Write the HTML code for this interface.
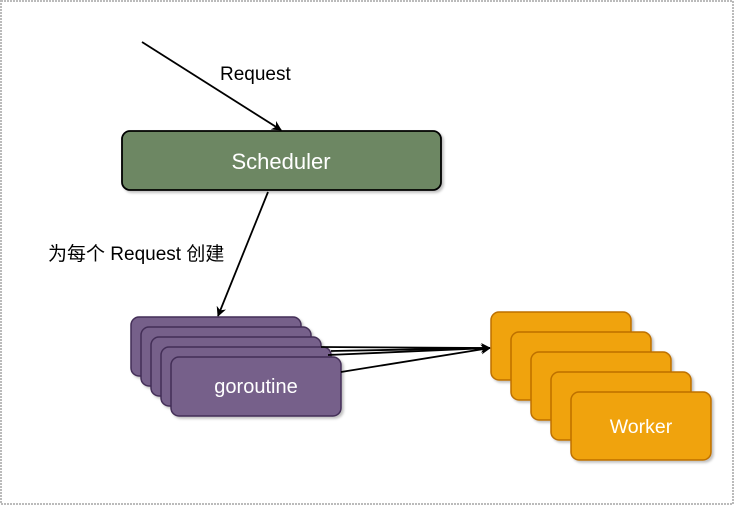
<!DOCTYPE html>
<html><head><meta charset="utf-8"><style>
html,body{margin:0;padding:0;background:#fff;}
svg{display:block;}
text{font-family:"Liberation Sans","Noto Sans CJK SC",sans-serif;}
</style></head><body>
<svg width="734" height="505" viewBox="0 0 734 505" xmlns="http://www.w3.org/2000/svg">
<defs>
<marker id="a" markerWidth="10" markerHeight="10" refX="9" refY="5" orient="auto" markerUnits="userSpaceOnUse"><path d="M0,0 L10,5 L0,10 L3,5 z" fill="#000"/></marker>
<filter id="s" x="-10%" y="-10%" width="130%" height="130%"><feDropShadow dx="2" dy="2" stdDeviation="1.2" flood-color="#000" flood-opacity="0.25"/></filter>
</defs>
<rect x="1" y="1" width="732" height="503" fill="none" stroke="#bbb" stroke-width="2" stroke-dasharray="2,1"/>
<line x1="142" y1="42" x2="281" y2="130" stroke="#000" stroke-width="1.8" marker-end="url(#a)"/>
<text x="220" y="80" font-size="19">Request</text>
<rect x="122" y="131" width="319" height="59" rx="8" fill="#6d8764" stroke="#000" stroke-width="1.8" filter="url(#s)"/>
<text x="281" y="169" font-size="22" fill="#fff" text-anchor="middle">Scheduler</text>
<line x1="268" y1="192" x2="218" y2="316" stroke="#000" stroke-width="1.8" marker-end="url(#a)"/>
<text x="48" y="260" font-size="19">为每个 Request 创建</text>
<g fill="#76608a" stroke="#432d57" stroke-width="1.5" filter="url(#s)">
<rect x="131" y="317" width="170" height="59" rx="8"/>
<rect x="141" y="327" width="170" height="59" rx="8"/>
<rect x="151" y="337" width="170" height="59" rx="8"/>
<rect x="161" y="347" width="170" height="59" rx="8"/>
<rect x="171" y="357" width="170" height="59" rx="8"/>
</g>
<text x="256" y="393" font-size="20" fill="#fff" text-anchor="middle">goroutine</text>
<g stroke="#000" stroke-width="1.8" fill="none">
<line x1="321" y1="347" x2="490" y2="348" marker-end="url(#a)"/>
<line x1="331" y1="351" x2="490" y2="348"/>
<line x1="328" y1="355" x2="490" y2="348"/>
<line x1="341" y1="372" x2="490" y2="348" marker-end="url(#a)"/>
</g>
<g fill="#f0a30a" stroke="#bd7000" stroke-width="1.5" filter="url(#s)">
<rect x="491" y="312" width="140" height="68" rx="8"/>
<rect x="511" y="332" width="140" height="68" rx="8"/>
<rect x="531" y="352" width="140" height="68" rx="8"/>
<rect x="551" y="372" width="140" height="68" rx="8"/>
<rect x="571" y="392" width="140" height="68" rx="8"/>
</g>
<text x="641" y="433" font-size="19.5" fill="#fff" text-anchor="middle">Worker</text>
</svg>
</body></html>
